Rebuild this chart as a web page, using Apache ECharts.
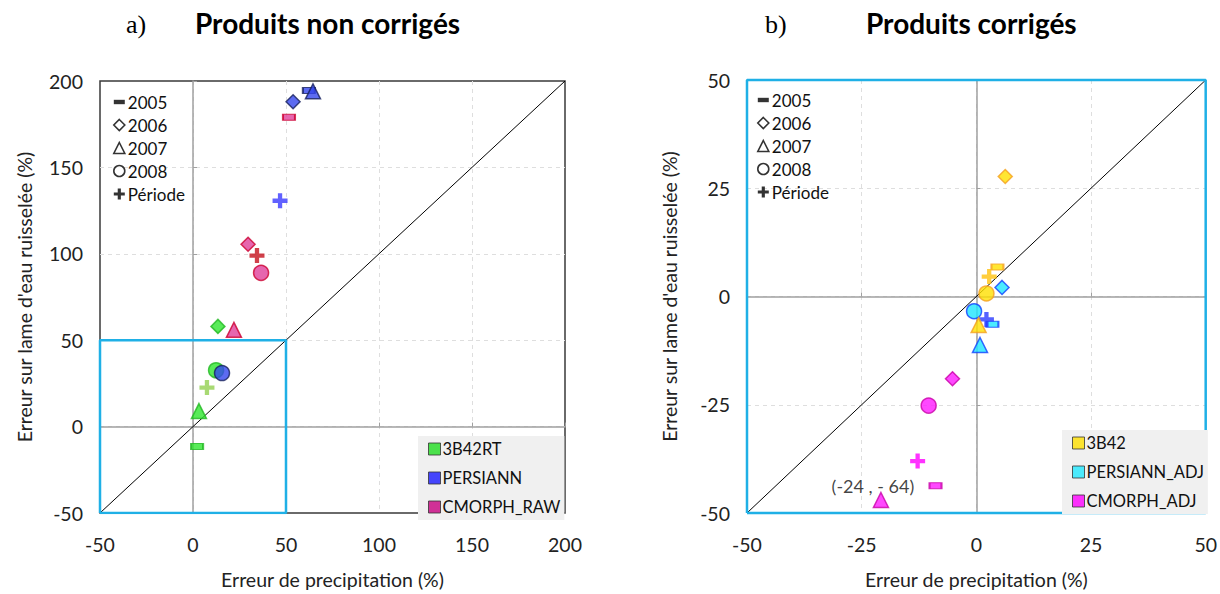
<!DOCTYPE html>
<html>
<head>
<meta charset="utf-8">
<script src="https://cdn.jsdelivr.net/npm/echarts@6/dist/echarts.min.js"></script>
<style>
html,body{margin:0;padding:0;background:#fff;}
#chart{width:1220px;height:594px;}
</style>
</head>
<body>
<div id="chart"></div>
<script>
// ---------- data ----------
const yearLabels = ['2005', '2006', '2007', '2008', 'Période'];

// a) Produits non corrigés  (x = erreur precipitation %, y = erreur lame ruisselée %)
const raw3B42RT_X   = [2.2, 13.4, 3.2, 12.4, 7.5];
const raw3B42RT_Y   = [-11.5, 58, 9, 32.6, 22.6];
const rawPERSIANN_X = [62.3, 53.8, 64.5, 15.6, 46.8];
const rawPERSIANN_Y = [194.5, 188, 194, 31, 130.7];
const rawCMORPH_X   = [51.6, 29.6, 22, 36.6, 34.4];
const rawCMORPH_Y   = [179, 105.5, 56, 89, 99];

// b) Produits corrigés
const adj3B42_X     = [4.6, 6.3, 0.5, 2.2, 2.8];
const adj3B42_Y     = [6.8, 27.7, -6.6, 0.7, 4.6];
const adjPERSIANN_X = [3.5, 5.6, 0.8, -0.5, 2.2];
const adjPERSIANN_Y = [-6.4, 2.1, -11.2, -3.4, -5.3];
const adjCMORPH_X   = [-8.9, -5.2, -20.8, -10.4, -12.8];
const adjCMORPH_Y   = [-43.7, -19, -47, -25.2, -38];

const leftTicks  = {min: -50, max: 200, interval: 50};
const rightTicks = {min: -50, max: 50, interval: 25};
const zoomBox = [-50, 50];
const clippedNote = '(-24 , - 64)';

// ---------- styles ----------
const FONT = 'Lato, "Open Sans", sans-serif';
const symDash = 'path://M0,0h10v4h-10z';
const symPlus = 'path://M5,0h4v5h5v4h-5v5h-4v-5h-5v-4h5z';
const yearSymbols = [symDash, 'diamond', 'triangle', 'circle', symPlus];
const yearSizes = [[12, 6], 14, 15, 15, 15];

const products = [
  {name: '3B42RT', grid: 0, xs: raw3B42RT_X, ys: raw3B42RT_Y, fill: '#2ee62e', border: '#22b822', cross: '#92d050', legend: '#22dd22'},
  {name: 'PERSIANN', grid: 0, xs: rawPERSIANN_X, ys: rawPERSIANN_Y, fill: '#3346ee', border: '#17215e', cross: '#3a3aff', legend: '#1a1aff'},
  {name: 'CMORPH_RAW', grid: 0, xs: rawCMORPH_X, ys: rawCMORPH_Y, fill: '#e0409a', border: '#cc0030', cross: '#c4101c', legend: '#c80080'},
  {name: 'PERSIANN_ADJ', grid: 1, xs: adjPERSIANN_X, ys: adjPERSIANN_Y, fill: '#1ee6ff', border: '#1040ff', cross: '#2b3bff', legend: '#22e8ff'},
  {name: '3B42', grid: 1, xs: adj3B42_X, ys: adj3B42_Y, fill: '#ffe000', border: '#f5a020', cross: '#ffc20e', legend: '#ffe000'},
  {name: 'CMORPH_ADJ', grid: 1, xs: adjCMORPH_X, ys: adjCMORPH_Y, fill: '#ff1aff', border: '#c800a8', cross: '#ff00ff', legend: '#ff00ff'}
];

function rectPath(a, b) { return [[a, a], [a, b], [b, b], [b, a], [a, a]]; }

const series = [];
// reference lines and frames
series.push({type: 'line', xAxisIndex: 0, yAxisIndex: 0, data: [[leftTicks.min, leftTicks.min], [leftTicks.max, leftTicks.max]],
  symbol: 'none', silent: true, z: 1, lineStyle: {color: '#000', width: 1}});
series.push({type: 'line', xAxisIndex: 0, yAxisIndex: 0, data: rectPath(zoomBox[0], zoomBox[1]),
  symbol: 'none', silent: true, z: 2, lineStyle: {color: '#1fb0e6', width: 2.5}});
series.push({type: 'line', xAxisIndex: 2, yAxisIndex: 2, data: [[rightTicks.min, rightTicks.min], [rightTicks.max, rightTicks.max]],
  symbol: 'none', silent: true, z: 1, lineStyle: {color: '#000', width: 1}});
series.push({type: 'line', xAxisIndex: 2, yAxisIndex: 2, data: rectPath(rightTicks.min, rightTicks.max),
  symbol: 'none', silent: true, z: 2, clip: false, lineStyle: {color: '#1fb0e6', width: 2.5}});

products.forEach(p => {
  const ax = p.grid === 0 ? 0 : 2;
  yearLabels.forEach((yr, i) => {
    const isPlus = i === 4;
    const item = {value: [p.xs[i], p.ys[i]]};
    if (p.name === 'CMORPH_ADJ' && i === 2) {
      item.label = {show: true, formatter: clippedNote, position: 'top', offset: [-8, 8],
        fontSize: 18, color: '#111', fontFamily: FONT};
    }
    series.push({
      type: 'scatter', name: p.name, xAxisIndex: ax, yAxisIndex: ax, z: 3,
      symbol: yearSymbols[i], symbolSize: yearSizes[i], symbolKeepAspect: false,
      itemStyle: isPlus ? {color: p.cross, borderWidth: 0}
                        : {color: p.fill, borderColor: p.border, borderWidth: 1.5},
      data: [item]
    });
  });
});
// dummy series for the year legend
yearLabels.forEach((yr, i) => {
  series.push({type: 'scatter', name: yr, xAxisIndex: 0, yAxisIndex: 0, data: [], symbol: yearSymbols[i]});
});

function yearLegend(left, top) {
  return {
    orient: 'vertical', left: left, top: top, padding: 0, itemGap: 5, itemWidth: 11, itemHeight: 11,
    selectedMode: false,
    textStyle: {fontSize: 17, color: '#111', fontFamily: FONT, lineHeight: 18, padding: [0, 0, 0, -2]},
    data: yearLabels.map((yr, i) => ({
      name: yr, icon: yearSymbols[i],
      itemStyle: (i === 0 || i === 4) ? {color: '#000', borderWidth: 0}
                                       : {color: '#fff', borderColor: '#000', borderWidth: 1.6}
    }))
  };
}
function productLegend(names, left, top) {
  return {
    orient: 'vertical', left: left, top: top, padding: [4, 4, 4, 10], itemGap: 11,
    itemWidth: 12, itemHeight: 12, backgroundColor: '#f0f0f0', selectedMode: false,
    textStyle: {fontSize: 16.5, color: '#111', fontFamily: FONT, lineHeight: 18, padding: [0, 0, 0, -3]},
    data: names.map(n => {
      const p = products.find(q => q.name === n);
      return {name: n, icon: 'rect', itemStyle: {color: p.legend, borderColor: '#333', borderWidth: 1}};
    })
  };
}

function valueAxis(grid, dim, t, name, gap) {
  return {
    type: 'value', gridIndex: grid, min: t.min, max: t.max, interval: t.interval,
    position: dim === 'x' ? 'bottom' : 'left',
    axisLine: {show: false, onZero: false}, axisTick: {show: false},
    axisLabel: {fontSize: 19.5, color: '#222', fontFamily: FONT, margin: dim === 'x' ? 21 : 17},
    splitLine: {show: true, showMinLine: false, showMaxLine: false,
      lineStyle: {color: '#dedede', type: [4, 4], width: 1}},
    name: name, nameLocation: 'middle', nameGap: gap,
    nameTextStyle: {fontSize: 19.5, color: '#222', fontFamily: FONT}
  };
}
function zeroAxis(grid, dim, t) {
  return {
    type: 'value', gridIndex: grid, min: t.min, max: t.max, interval: t.interval,
    position: dim === 'x' ? 'top' : 'right',
    axisLine: {show: true, onZero: true, lineStyle: {color: '#a0a0a0', width: 1.5}},
    axisTick: {show: true, length: 4, lineStyle: {color: '#a0a0a0'}},
    axisLabel: {show: false}, splitLine: {show: false}
  };
}

const option = {
  animation: false,
  backgroundColor: '#fff',
  title: [
    {text: 'a)', left: 126, top: 11, padding: 0, textStyle: {fontFamily: '"Liberation Serif", serif', fontSize: 26, fontWeight: 'normal', color: '#000'}},
    {text: 'Produits non corrigés', left: 195, top: 9, padding: 0, textStyle: {fontFamily: FONT, fontSize: 28, fontWeight: 'bold', color: '#000'}},
    {text: 'b)', left: 765, top: 11, padding: 0, textStyle: {fontFamily: '"Liberation Serif", serif', fontSize: 26, fontWeight: 'normal', color: '#000'}},
    {text: 'Produits corrigés', left: 866, top: 9, padding: 0, textStyle: {fontFamily: FONT, fontSize: 28, fontWeight: 'bold', color: '#000'}}
  ],
  grid: [
    {left: 100, top: 81, width: 465, height: 436, show: true, borderColor: '#3a3a3a', borderWidth: 1.5, backgroundColor: 'transparent'},
    {left: 747, top: 80, width: 461, height: 437, show: false}
  ],
  xAxis: [
    valueAxis(0, 'x', leftTicks, 'Erreur de precipitation (%)', 56),
    zeroAxis(0, 'x', leftTicks),
    valueAxis(1, 'x', rightTicks, 'Erreur de precipitation (%)', 56),
    zeroAxis(1, 'x', rightTicks)
  ],
  yAxis: [
    valueAxis(0, 'y', leftTicks, "Erreur sur lame d'eau ruisselée (%)", 66),
    zeroAxis(0, 'y', leftTicks),
    valueAxis(1, 'y', rightTicks, "Erreur sur lame d'eau ruisselée (%)", 68),
    zeroAxis(1, 'y', rightTicks)
  ],
  legend: [
    yearLegend(113, 93),
    yearLegend(757, 91),
    productLegend(['3B42RT', 'PERSIANN', 'CMORPH_RAW'], 418, 436),
    productLegend(['3B42', 'PERSIANN_ADJ', 'CMORPH_ADJ'], 1062, 430)
  ],
  series: series
};

const chart = echarts.init(document.getElementById('chart'), null, {renderer: 'svg'});
chart.setOption(option);
</script>
</body>
</html>
